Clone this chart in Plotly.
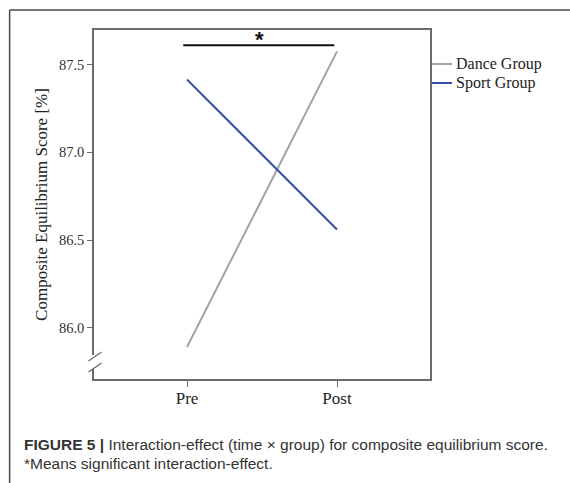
import plotly.graph_objects as go

# ---- data ----
time_points = ["Pre", "Post"]
dance_group = [85.89, 87.575]
sport_group = [87.415, 86.56]
series_names = ["Dance Group", "Sport Group"]
series_colors = ["#a3a3a3", "#3b4ea6"]
y_tick_vals = [86.0, 86.5, 87.0, 87.5]
y_tick_text = ["86.0", "86.5", "87.0", "87.5"]
sig_x = [-0.025, 0.982]
sig_y = [87.61, 87.61]
sig_star_x = 0.48
sig_star_y = 87.645
caption_line1 = "<b>FIGURE 5 |</b> Interaction-effect (time \u00d7 group) for composite equilibrium score."
caption_line2 = "*Means significant interaction-effect."

x_idx = list(range(len(time_points)))

SERIF = "Liberation Serif"
SANS = "Liberation Sans"

fig = go.Figure()
for name, vals, col in zip(series_names, [dance_group, sport_group], series_colors):
    fig.add_trace(go.Scatter(x=x_idx, y=vals, mode="lines", name=name,
                             line=dict(color=col, width=2), showlegend=False))
# significance bar
fig.add_trace(go.Scatter(x=sig_x, y=sig_y, mode="lines", showlegend=False,
                         line=dict(color="#111111", width=2), hoverinfo="skip"))

fig.add_annotation(x=sig_star_x, y=sig_star_y, xref="x", yref="y", text="<b>*</b>",
                   showarrow=False, font=dict(family=SANS, size=22, color="#111111"),
                   yanchor="middle")

L, R, T, B = 93.5, 140, 30, 104
W, H = 570, 483
pw = W - L - R
ph = H - T - B

def px_x(p):
    return (p - L) / pw

def px_y(p):
    return (H - B - p) / ph

shapes = []
# outer figure frame (left and top)
shapes.append(dict(type="line", xref="paper", yref="paper",
                   x0=px_x(9), x1=px_x(9), y0=px_y(10), y1=px_y(490),
                   line=dict(color="#4a4a4a", width=1.5)))
shapes.append(dict(type="line", xref="paper", yref="paper",
                   x0=px_x(9), x1=px_x(580), y0=px_y(10), y1=px_y(10),
                   line=dict(color="#4a4a4a", width=1.5)))
# axis break: white cover + slashes
shapes.append(dict(type="rect", xref="paper", yref="paper",
                   x0=px_x(91), x1=px_x(96), y0=px_y(355), y1=px_y(369),
                   fillcolor="white", line=dict(width=0), layer="above"))
shapes.append(dict(type="line", xref="paper", yref="paper",
                   x0=px_x(88), x1=px_x(101), y0=px_y(361), y1=px_y(352),
                   line=dict(color="#6a6a6a", width=1.3)))
shapes.append(dict(type="line", xref="paper", yref="paper",
                   x0=px_x(88), x1=px_x(101), y0=px_y(372), y1=px_y(363),
                   line=dict(color="#6a6a6a", width=1.3)))

# legend (drawn manually to match compact spacing)
legend_rows_y = [64, 83]
for name, col, ry in zip(series_names, series_colors, legend_rows_y):
    shapes.append(dict(type="line", xref="paper", yref="paper",
                       x0=px_x(432), x1=px_x(452), y0=px_y(ry), y1=px_y(ry),
                       line=dict(color=col, width=2)))
    fig.add_annotation(xref="paper", yref="paper", x=px_x(454), y=px_y(ry),
                       xanchor="left", yanchor="middle", showarrow=False,
                       text=name, font=dict(family=SERIF, size=16, color="#222222"))
fig.update_layout(shapes=shapes)

fig.add_annotation(xref="paper", yref="paper", x=px_x(21), y=px_y(444),
                   xanchor="left", yanchor="middle", showarrow=False, align="left",
                   text=caption_line1, font=dict(family=SANS, size=15.5, color="#333333"))
fig.add_annotation(xref="paper", yref="paper", x=px_x(21), y=px_y(463.5),
                   xanchor="left", yanchor="middle", showarrow=False, align="left",
                   text=caption_line2, font=dict(family=SANS, size=15.5, color="#333333"))

fig.update_layout(
    width=W, height=H,
    margin=dict(l=L, r=R, t=T, b=B, pad=0),
    paper_bgcolor="white", plot_bgcolor="white",
    font=dict(family=SERIF, color="#222222"),
    xaxis=dict(range=[-0.62, 1.62], tickvals=x_idx, ticktext=time_points,
               showgrid=False, zeroline=False, showline=True, mirror=True,
               linecolor="#6a6a6a", linewidth=1.5, ticks="outside", ticklen=6,
               tickcolor="#6a6a6a", ticklabelstandoff=-3,
               tickfont=dict(family=SERIF, size=17, color="#222222")),
    yaxis=dict(range=[85.708, 87.697], tickvals=y_tick_vals, ticktext=y_tick_text,
               showgrid=False, zeroline=False, showline=True, mirror=True,
               linecolor="#6a6a6a", linewidth=1.5, ticks="outside", ticklen=5,
               tickcolor="#6a6a6a", tickfont=dict(family=SERIF, size=14.5, color="#333333"),
               title=dict(text="Composite Equilibrium Score [%]", standoff=7,
                          font=dict(family=SERIF, size=17, color="#222222"))),
    showlegend=False,
)

fig.write_html("out.html", config={"displayModeBar": False},
               post_script="document.body.style.margin='0px';document.body.style.padding='0px';")
